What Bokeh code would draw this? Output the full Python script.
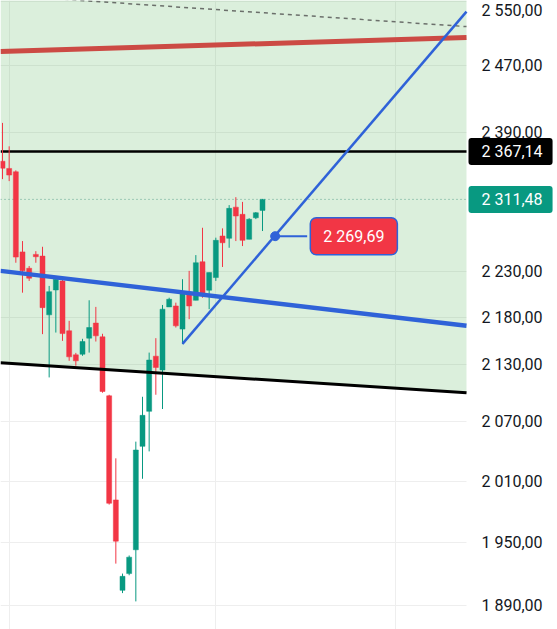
from bokeh.plotting import figure
from bokeh.models import FixedTicker, CustomJSTickFormatter, Label, ColumnDataSource, Range1d
from bokeh.embed import file_html
from bokeh.resources import INLINE

# ---- data ----
idx = list(range(40))
opens = [2355.6, 2347.2, 2343.3, 2252.1, 2233.9, 2249.3, 2247.4, 2182.9, 2210.0, 2219.9,
         2165.7, 2140.0, 2140.7, 2157.8, 2174.0, 2159.2, 2097.0, 1991.5, 1904.2, 1920.1,
         1942.9, 2045.1, 2080.9, 2138.6, 2124.0, 2191.5, 2192.5, 2167.5, 2205.3, 2198.7,
         2241.1, 2209.7, 2223.6, 2269.9, 2267.3, 2302.6, 2294.4, 2266.2, 2290.5, 2298.9]
highs = [2400.8, 2373.1, 2345.0, 2264.2, 2236.4, 2252.9, 2257.8, 2214.4, 2225.4, 2222.1,
         2176.4, 2142.1, 2157.1, 2198.7, 2191.5, 2162.5, 2098.1, 2033.0, 1920.1, 1937.4,
         2049.9, 2096.0, 2142.4, 2157.8, 2193.6, 2201.5, 2196.1, 2221.8, 2231.0, 2248.5,
         2279.2, 2229.1, 2268.0, 2278.5, 2304.9, 2314.0, 2308.6, 2290.0, 2297.0, 2312.0]
lows = [2334.8, 2332.5, 2240.0, 2207.0, 2219.9, 2240.0, 2162.1, 2116.2, 2163.8, 2154.9,
        2133.7, 2128.5, 2139.0, 2142.4, 2154.2, 2100.2, 1986.9, 1929.6, 1901.6, 1918.5,
        1893.8, 2012.5, 2040.0, 2098.1, 2083.3, 2191.5, 2169.2, 2151.4, 2178.2, 2198.7,
        2201.5, 2189.0, 2219.9, 2235.3, 2256.7, 2264.2, 2258.6, 2266.2, 2289.0, 2275.5]
closes = [2347.5, 2339.5, 2246.3, 2231.0, 2222.9, 2246.7, 2190.7, 2208.1, 2221.8, 2162.7,
          2137.9, 2133.7, 2154.2, 2169.2, 2160.3, 2101.5, 1988.2, 1951.2, 1917.5, 1935.8,
          2041.4, 2076.8, 2134.5, 2126.7, 2189.0, 2199.8, 2171.0, 2207.0, 2192.5, 2240.0,
          2205.9, 2229.1, 2265.0, 2262.3, 2301.2, 2292.5, 2265.0, 2288.8, 2296.2, 2311.48]

tick_values = [1890, 1950, 2010, 2070, 2130, 2180, 2230, 2390, 2470, 2550]
tick_labels = ["1 890,00", "1 950,00", "2 010,00", "2 070,00", "2 130,00", "2 180,00",
               "2 230,00", "2 390,00", "2 470,00", "2 550,00"]
time_grid = [1, 32, 59]

line_x = [-0.3, 69.6]          # chart pane (left of the price scale)
scale_x = [69.6, 83.25]        # price-scale strip
y_lo, y_hi = 1867.6, 2551
red_line = [2487.3, 2504.6]
blue_line = [2231.0, 2171.0]
support_line = [2131.6, 2100.2]
dashed_line = [2558.0, 2518.2]
fill_top = 2600
rise_x = [27.0, 69.6]
rise_y = [2151.7, 2537.0]

resistance_level = 2367.14
last_price = 2311.48
alert_price = 2269.69
alert_x = 40.9
alert_label_x = 52.7
alert_box_left = 45.7
price_tag_x = 69.9

GREEN = "#089981"
RED = "#f23645"
BLUE = "#2f62d8"

colors = [GREEN if c >= o else RED for o, c in zip(opens, closes)]
src = ColumnDataSource(dict(x=idx, o=opens, h=highs, l=lows, c=closes,
                            top=[max(o, c) for o, c in zip(opens, closes)],
                            bottom=[min(o, c) for o, c in zip(opens, closes)],
                            color=colors))

p = figure(width=557, height=629, output_backend="svg", toolbar_location=None,
           y_axis_type="log", y_axis_location="right", x_axis_location=None,
           x_range=Range1d(line_x[0], scale_x[1]), y_range=Range1d(y_lo, y_hi),
           min_border_left=0, min_border_top=0, min_border_bottom=0, min_border_right=0)
p.outline_line_color = None
p.background_fill_color = "white"
p.border_fill_color = "white"

# price axis (labels drawn back over the price-scale strip)
p.yaxis.ticker = FixedTicker(ticks=tick_values)
p.yaxis.formatter = CustomJSTickFormatter(args=dict(tvals=tick_values, tlabels=tick_labels), code="""
const i = tvals.findIndex(t => Math.abs(t - tick) < 1e-6);
return i >= 0 ? tlabels[i] : "";
""")
p.yaxis.axis_line_color = None
p.yaxis.major_tick_line_color = None
p.yaxis.minor_tick_line_color = None
p.yaxis.major_tick_out = 0
p.yaxis.major_tick_in = 0
p.yaxis.major_label_standoff = -76
p.yaxis.major_label_text_font = "Roboto"
p.yaxis.major_label_text_font_size = "16px"
p.yaxis.major_label_text_color = "#131722"

p.ygrid.grid_line_color = "#eeeeee"
p.xgrid.ticker = FixedTicker(ticks=time_grid)
p.xgrid.grid_line_color = "#eeeeee"

# white price-scale strip (hides grid lines there)
p.quad(left=[scale_x[0]], right=[scale_x[1]], bottom=[y_lo], top=[y_hi],
       fill_color="white", line_color=None)

# channel fill
p.patch([line_x[0], line_x[1], line_x[1], line_x[0]],
        [support_line[0], support_line[1], fill_top, fill_top],
        fill_color="#4caf50", fill_alpha=0.2, line_color=None)

# lines
p.line(line_x, dashed_line, line_color="#6b6f6b", line_width=1.5, line_dash="4 4")
p.line(line_x, red_line, line_color="#cc4a44", line_width=5)
p.line(line_x, [resistance_level] * 2, line_color="black", line_width=2.5)
p.line(line_x, [last_price] * 2, line_color="#5fa48f", line_width=1, line_dash="1 3")

# candles
p.segment(x0="x", y0="h", x1="x", y1="l", color="color", line_width=1, source=src)
p.vbar(x="x", top="top", bottom="bottom", width=0.75, fill_color="color",
       line_color="color", line_width=0.5, source=src)

p.line(line_x, blue_line, line_color=BLUE, line_width=4.5)
p.line(line_x, support_line, line_color="black", line_width=3)
p.line(rise_x, rise_y, line_color=BLUE, line_width=2.5)

# alert marker
p.line([alert_x, alert_box_left], [alert_price] * 2, line_color=BLUE, line_width=2)
p.scatter([alert_x], [alert_price], size=9, fill_color=BLUE, line_color=BLUE, line_width=1)

p.add_layout(Label(x=alert_label_x, y=alert_price, text="2 269,69", text_align="center",
                   text_baseline="middle", text_color="white", text_font="Roboto",
                   text_font_size="16px", background_fill_color=RED,
                   border_line_color=BLUE, border_line_width=1.5, border_radius=6,
                   padding=dict(left=13, right=13, top=9, bottom=9)))

p.add_layout(Label(x=price_tag_x, y=resistance_level, text="2 367,14", text_align="left",
                   text_baseline="middle", text_color="white", text_font="Roboto",
                   text_font_size="16px", background_fill_color="black", border_radius=3,
                   padding=dict(left=13, right=10, top=4, bottom=4)))
p.add_layout(Label(x=price_tag_x, y=last_price, text="2 311,48", text_align="left",
                   text_baseline="middle", text_color="white", text_font="Roboto",
                   text_font_size="16px", background_fill_color=GREEN, border_radius=3,
                   padding=dict(left=13, right=10, top=4, bottom=4)))

open("out.html", "w").write(file_html(p, INLINE))
